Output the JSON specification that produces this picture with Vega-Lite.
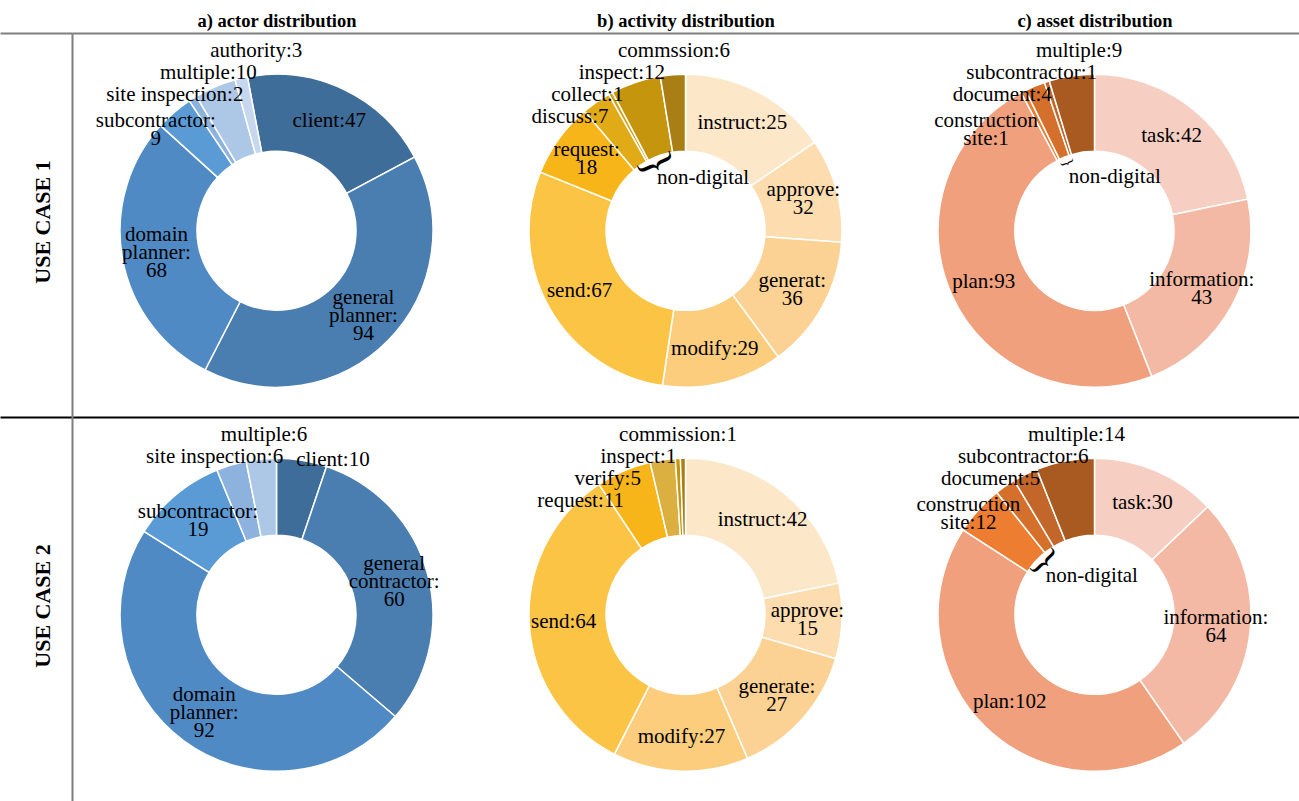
{
  "$schema": "https://vega.github.io/schema/vega-lite/v6.json",
  "width": 1227,
  "height": 768,
  "autosize": {"type": "none"},
  "padding": {"left": 72, "top": 33, "right": 0, "bottom": 0},
  "background": "white",
  "config": {"view": {"stroke": null}, "font": "Liberation Serif"},
  "data": {
    "values": [
      {"case": "USE CASE 1", "dist": "actor", "i": 1, "cat": "client", "value": 47, "label": "client:47"},
      {"case": "USE CASE 1", "dist": "actor", "i": 2, "cat": "general planner", "value": 94, "label": "general\nplanner:\n94"},
      {"case": "USE CASE 1", "dist": "actor", "i": 3, "cat": "domain planner", "value": 68, "label": "domain\nplanner:\n68"},
      {"case": "USE CASE 1", "dist": "actor", "i": 4, "cat": "subcontractor", "value": 9, "label": "subcontractor:\n9"},
      {"case": "USE CASE 1", "dist": "actor", "i": 5, "cat": "site inspection", "value": 2, "label": "site inspection:2"},
      {"case": "USE CASE 1", "dist": "actor", "i": 6, "cat": "multiple", "value": 10, "label": "multiple:10"},
      {"case": "USE CASE 1", "dist": "actor", "i": 7, "cat": "authority", "value": 3, "label": "authority:3"},

      {"case": "USE CASE 1", "dist": "activity", "i": 1, "cat": "instruct", "value": 36, "label": "instruct:25"},
      {"case": "USE CASE 1", "dist": "activity", "i": 2, "cat": "approve", "value": 25, "label": "approve:\n32"},
      {"case": "USE CASE 1", "dist": "activity", "i": 3, "cat": "generat", "value": 32, "label": "generat:\n36"},
      {"case": "USE CASE 1", "dist": "activity", "i": 4, "cat": "modify", "value": 29, "label": "modify:29"},
      {"case": "USE CASE 1", "dist": "activity", "i": 5, "cat": "send", "value": 67, "label": "send:67"},
      {"case": "USE CASE 1", "dist": "activity", "i": 6, "cat": "request", "value": 18, "label": "request:\n18"},
      {"case": "USE CASE 1", "dist": "activity", "i": 7, "cat": "discuss", "value": 7, "label": "discuss:7", "group": "non-digital"},
      {"case": "USE CASE 1", "dist": "activity", "i": 8, "cat": "collect", "value": 1, "label": "collect:1", "group": "non-digital"},
      {"case": "USE CASE 1", "dist": "activity", "i": 9, "cat": "inspect", "value": 12, "label": "inspect:12", "group": "non-digital"},
      {"case": "USE CASE 1", "dist": "activity", "i": 10, "cat": "commssion", "value": 6, "label": "commssion:6"},

      {"case": "USE CASE 1", "dist": "asset", "i": 1, "cat": "task", "value": 42, "label": "task:42"},
      {"case": "USE CASE 1", "dist": "asset", "i": 2, "cat": "information", "value": 43, "label": "information:\n43"},
      {"case": "USE CASE 1", "dist": "asset", "i": 3, "cat": "plan", "value": 93, "label": "plan:93"},
      {"case": "USE CASE 1", "dist": "asset", "i": 4, "cat": "construction site", "value": 1, "label": "construction\nsite:1", "group": "non-digital"},
      {"case": "USE CASE 1", "dist": "asset", "i": 5, "cat": "document", "value": 4, "label": "document:4", "group": "non-digital"},
      {"case": "USE CASE 1", "dist": "asset", "i": 6, "cat": "subcontractor", "value": 1, "label": "subcontractor:1", "group": "non-digital"},
      {"case": "USE CASE 1", "dist": "asset", "i": 7, "cat": "multiple", "value": 9, "label": "multiple:9"},

      {"case": "USE CASE 2", "dist": "actor", "i": 1, "cat": "client", "value": 10, "label": "client:10"},
      {"case": "USE CASE 2", "dist": "actor", "i": 2, "cat": "general contractor", "value": 60, "label": "general\ncontractor:\n60"},
      {"case": "USE CASE 2", "dist": "actor", "i": 3, "cat": "domain planner", "value": 92, "label": "domain\nplanner:\n92"},
      {"case": "USE CASE 2", "dist": "actor", "i": 4, "cat": "subcontractor", "value": 19, "label": "subcontractor:\n19"},
      {"case": "USE CASE 2", "dist": "actor", "i": 5, "cat": "site inspection", "value": 6, "label": "site inspection:6"},
      {"case": "USE CASE 2", "dist": "actor", "i": 6, "cat": "multiple", "value": 6, "label": "multiple:6"},

      {"case": "USE CASE 2", "dist": "activity", "i": 1, "cat": "instruct", "value": 42, "label": "instruct:42"},
      {"case": "USE CASE 2", "dist": "activity", "i": 2, "cat": "approve", "value": 15, "label": "approve:\n15"},
      {"case": "USE CASE 2", "dist": "activity", "i": 3, "cat": "generate", "value": 27, "label": "generate:\n27"},
      {"case": "USE CASE 2", "dist": "activity", "i": 4, "cat": "modify", "value": 27, "label": "modify:27"},
      {"case": "USE CASE 2", "dist": "activity", "i": 5, "cat": "send", "value": 64, "label": "send:64"},
      {"case": "USE CASE 2", "dist": "activity", "i": 6, "cat": "request", "value": 11, "label": "request:11"},
      {"case": "USE CASE 2", "dist": "activity", "i": 7, "cat": "verify", "value": 5, "label": "verify:5"},
      {"case": "USE CASE 2", "dist": "activity", "i": 8, "cat": "inspect", "value": 1, "label": "inspect:1"},
      {"case": "USE CASE 2", "dist": "activity", "i": 9, "cat": "commission", "value": 1, "label": "commission:1"},

      {"case": "USE CASE 2", "dist": "asset", "i": 1, "cat": "task", "value": 30, "label": "task:30"},
      {"case": "USE CASE 2", "dist": "asset", "i": 2, "cat": "information", "value": 64, "label": "information:\n64"},
      {"case": "USE CASE 2", "dist": "asset", "i": 3, "cat": "plan", "value": 102, "label": "plan:102"},
      {"case": "USE CASE 2", "dist": "asset", "i": 4, "cat": "construction site", "value": 12, "label": "construction\nsite:12", "group": "non-digital"},
      {"case": "USE CASE 2", "dist": "asset", "i": 5, "cat": "document", "value": 5, "label": "document:5", "group": "non-digital"},
      {"case": "USE CASE 2", "dist": "asset", "i": 6, "cat": "subcontractor", "value": 6, "label": "subcontractor:6"},
      {"case": "USE CASE 2", "dist": "asset", "i": 7, "cat": "multiple", "value": 14, "label": "multiple:14"}
    ]
  },
  "transform": [
    {"calculate": "datum.dist + '|' + datum.cat", "as": "key"},
    {"joinaggregate": [{"op": "sum", "field": "value", "as": "total"}], "groupby": ["case", "dist"]},
    {"window": [{"op": "sum", "field": "value", "as": "cum"}], "groupby": ["case", "dist"], "sort": [{"field": "i", "order": "ascending"}], "frame": [null, 0]},
    {"calculate": "datum.case === 'USE CASE 1' && datum.dist === 'actor' ? -10.7 : 0", "as": "rot"},
    {"calculate": "2 * PI * ((datum.cum - datum.value) / datum.total + datum.rot / 360)", "as": "a0"},
    {"calculate": "2 * PI * (datum.cum / datum.total + datum.rot / 360)", "as": "a1"},
    {"calculate": "(datum.a0 + datum.a1) / 2", "as": "am"},
    {"calculate": "datum.value / datum.total < 0.07 ? 1 : 0", "as": "small"},
    {"window": [{"op": "sum", "field": "small", "as": "kend"}], "groupby": ["case", "dist"], "sort": [{"field": "i", "order": "descending"}], "frame": [null, 0]},
    {"window": [{"op": "sum", "field": "small", "as": "kstart"}], "groupby": ["case", "dist"], "sort": [{"field": "i", "order": "ascending"}], "frame": [null, 0]},
    {"calculate": "datum.kend - 1", "as": "k"},
    {"calculate": "length(split(datum.label, '\\n'))", "as": "nl"},
    {"calculate": "datum.small === 0 ? 122 * sin(datum.am) : (datum.am < PI ? 165 * sin((20 + 17 * (datum.kstart - 1)) * PI / 180) : 0.35 * 175 * sin(datum.am) + 0.65 * (-10 - 68 * datum.k + 10 * datum.k * datum.k))", "as": "lx"},
    {"calculate": "datum.small === 0 ? -122 * cos(datum.am) - (datum.nl - 1) * 9 : (datum.am < PI ? -165 * cos((20 + 17 * (datum.kstart - 1)) * PI / 180) : -180 + 22 * datum.k + (datum.nl > 1 ? 4 : 0))", "as": "ly"},
    {"calculate": "sqrt(datum.lx * datum.lx + datum.ly * datum.ly)", "as": "lr"},
    {"calculate": "atan2(datum.lx, -datum.ly)", "as": "lt"}
  ],
  "encoding": {
    "x": {
      "field": "dist", "type": "nominal",
      "scale": {"domain": ["actor", "activity", "asset"]},
      "axis": {
        "orient": "top", "title": null, "domain": false, "ticks": false, "grid": false,
        "labelExpr": "datum.value === 'actor' ? 'a) actor distribution' : datum.value === 'activity' ? 'b) activity distribution' : 'c) asset distribution'",
        "labelFont": "Liberation Serif", "labelFontSize": 18.5, "labelFontWeight": "bold", "labelLimit": 0,
        "labelColor": "#000000", "labelPadding": 7, "labelBaseline": "alphabetic", "labelAngle": 0
      }
    },
    "y": {
      "field": "case", "type": "nominal", "bandPosition": 0.515,
      "scale": {"type": "band", "domain": ["USE CASE 1", "USE CASE 2"], "paddingInner": 0, "paddingOuter": 0},
      "axis": {
        "orient": "left", "title": null, "bandPosition": 0,
        "grid": true, "gridWidth": 2,
        "gridColor": {"condition": {"test": "datum.value === 'USE CASE 1'", "value": "#7f7f7f"}, "value": "#000000"},
        "ticks": true, "tickSize": 72, "tickWidth": 2,
        "tickColor": {"condition": {"test": "datum.value === 'USE CASE 1'", "value": "#7f7f7f"}, "value": "#000000"},
        "domain": true, "domainColor": "#7f7f7f", "domainWidth": 2,
        "labelAngle": -90, "labelAlign": "center", "labelBaseline": "middle",
        "labelPadding": -42, "labelOffset": -3,
        "labelFont": "Liberation Serif", "labelFontSize": 22, "labelFontWeight": "bold", "labelColor": "#000000"
      }
    }
  },
  "layer": [
    {
      "mark": {"type": "arc", "outerRadius": 156.5, "innerRadius": 79.5, "stroke": "white", "strokeWidth": 1.5},
      "encoding": {
        "theta": {"field": "a0", "type": "quantitative", "scale": null, "stack": null},
        "theta2": {"field": "a1"},
        "color": {
          "field": "key", "type": "nominal", "legend": null,
          "scale": {
            "domain": [
              "actor|client", "actor|general planner", "actor|general contractor", "actor|domain planner", "actor|subcontractor", "actor|site inspection", "actor|multiple", "actor|authority",
              "activity|instruct", "activity|approve", "activity|generat", "activity|generate", "activity|modify", "activity|send", "activity|request", "activity|discuss", "activity|collect", "activity|verify", "activity|inspect", "activity|commssion", "activity|commission",
              "asset|task", "asset|information", "asset|plan", "asset|construction site", "asset|document", "asset|subcontractor", "asset|multiple"
            ],
            "range": [
              "#3E6D9A", "#4A7EB1", "#4A7EB1", "#508AC4", "#5B9BD5", "#8DB2DE", "#ADC7E7", "#C7D8EE",
              "#FDE7C9", "#FDDCAF", "#FCD294", "#FCD294", "#FBCD7C", "#FCC444", "#F8B519", "#E1AA17", "#D4A11A", "#DCB040", "#C4950D", "#A97E14", "#A97E14",
              "#F6CFC2", "#F3B9A4", "#F0A07C", "#ED7D31", "#D4702B", "#C2662A", "#A85A21"
            ]
          }
        }
      }
    },
    {
      "mark": {"type": "text", "font": "Liberation Serif", "fontSize": 21, "lineBreak": "\n", "lineHeight": 18, "align": "center", "baseline": "middle", "color": "#000000"},
      "encoding": {
        "theta": {"field": "lt", "type": "quantitative", "scale": null},
        "radius": {"field": "lr", "type": "quantitative", "scale": null},
        "text": {"field": "label"}
      }
    },
    {
      "transform": [
        {"filter": "datum.group === 'non-digital'"},
        {"aggregate": [{"op": "min", "field": "a0", "as": "b0"}, {"op": "max", "field": "a1", "as": "b1"}], "groupby": ["case", "dist", "group"]},
        {"calculate": "(datum.b0 + datum.b1) / 2", "as": "bm"},
        {"calculate": "datum.bm * 180 / PI - 90", "as": "bang"},
        {"calculate": "(datum.b1 - datum.b0) * 80", "as": "bsize"}
      ],
      "mark": {"type": "text", "font": "Liberation Serif", "radius": 73, "align": "center", "baseline": "middle", "color": "#000000", "text": "{"},
      "encoding": {
        "theta": {"field": "bm", "type": "quantitative", "scale": null},
        "angle": {"field": "bang", "type": "quantitative", "scale": null},
        "size": {"field": "bsize", "type": "quantitative", "scale": null}
      }
    },
    {
      "transform": [
        {"filter": "datum.group === 'non-digital'"},
        {"aggregate": [{"op": "min", "field": "a0", "as": "b0"}, {"op": "max", "field": "a1", "as": "b1"}], "groupby": ["case", "dist", "group"]},
        {"calculate": "(datum.b0 + datum.b1) / 2", "as": "bm"}
      ],
      "mark": {"type": "text", "font": "Liberation Serif", "fontSize": 21, "radius": 73, "align": "left", "baseline": "middle", "dx": 2, "dy": 14, "color": "#000000"},
      "encoding": {
        "theta": {"field": "bm", "type": "quantitative", "scale": null},
        "text": {"field": "group"}
      }
    }
  ]
}
